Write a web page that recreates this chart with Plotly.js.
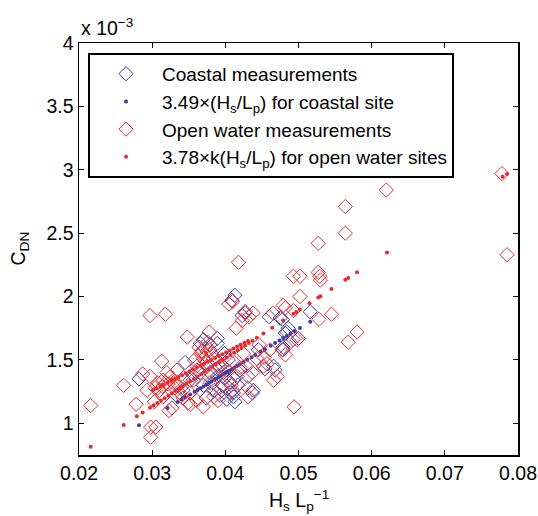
<!DOCTYPE html>
<html>
<head>
<meta charset="utf-8">
<script src="https://cdn.plot.ly/plotly-3.0.1.min.js"></script>
<style>html,body{margin:0;padding:0;background:#fff;}#chart{width:538px;height:516px;}</style>
</head>
<body>
<div id="chart"></div>
<script>
// Coastal measurements (blue open diamonds); y in units of 1e-3
var coastalX = [0.0282,0.0413,0.0409,0.0427,0.0423,0.0389,0.0370,0.0379,0.0366,0.0345,0.0478,0.0484,0.0478,0.0468,0.0438,0.0407,0.0411,0.0516,0.0475,0.0486,0.0482,0.0500,0.0489,0.0479,0.0466,0.0454,0.0389,0.0404,0.0397,0.0407,0.0411,0.0413,0.0393,0.0383,0.0379,0.0375,0.0361,0.0352,0.0342,0.0437,0.0431,0.0445,0.0333,0.0392,0.0400,0.0395,0.0385,0.0417,0.0402,0.0370,0.0356,0.0420,0.0399,0.0388,0.0412,0.0374,0.0460];
var coastalY = [1.35,2.01,1.97,1.88,1.85,1.67,1.66,1.62,1.63,1.48,1.82,1.72,1.58,1.42,1.26,1.24,1.21,1.88,1.83,1.75,1.71,1.67,1.64,1.60,1.45,1.43,1.63,1.50,1.40,1.32,1.24,1.17,1.22,1.32,1.40,1.48,1.42,1.34,1.26,1.24,1.37,1.58,1.22,1.28,1.36,1.46,1.26,1.30,1.19,1.30,1.38,1.42,1.55,1.43,1.35,1.20,1.84];

// 3.49 x (Hs/Lp) for coastal site (blue dots)
var coastalFitX = [0.0282,0.0321,0.0335,0.0340,0.0345,0.0352,0.0358,0.0362,0.0366,0.0370,0.0374,0.0378,0.0381,0.0385,0.0388,0.0391,0.0394,0.0397,0.0400,0.0403,0.0406,0.0409,0.0412,0.0416,0.0420,0.0425,0.0430,0.0436,0.0441,0.0448,0.0454,0.0462,0.0468,0.0474,0.0479,0.0484,0.0489,0.0495,0.0502,0.0516];
var coastalFitY = [0.984,1.120,1.169,1.187,1.204,1.228,1.249,1.263,1.277,1.291,1.305,1.319,1.330,1.344,1.354,1.365,1.375,1.386,1.396,1.406,1.417,1.427,1.438,1.452,1.466,1.483,1.501,1.522,1.539,1.564,1.584,1.612,1.633,1.654,1.672,1.689,1.707,1.728,1.752,1.801];

// Open water measurements (red open diamonds)
var openX = [0.0216,0.0261,0.0278,0.0287,0.0297,0.0318,0.0298,0.0305,0.0298,0.0303,0.0313,0.0323,0.0327,0.0348,0.0352,0.0370,0.0378,0.0418,0.0405,0.0410,0.0415,0.0427,0.0432,0.0438,0.0431,0.0465,0.0479,0.0482,0.0493,0.0493,0.0502,0.0502,0.0527,0.0527,0.0529,0.0530,0.0528,0.0545,0.0564,0.0564,0.0580,0.0568,0.0494,0.0620,0.0778,0.0785,0.0493,0.0461,0.0471,0.0431,0.0390,0.0349,0.0308,0.0304,0.0315,0.0314,0.0325,0.0329,0.0334,0.0338,0.0352,0.0356,0.0361,0.0366,0.0372,0.0370,0.0379,0.0384,0.0375,0.0389,0.0379,0.0396,0.0402,0.0416,0.0425,0.0429,0.0443,0.0452,0.0384,0.0361,0.0297,0.0293,0.0315,0.0498,0.0479,0.0457,0.0466,0.0482,0.0319,0.0331,0.0343,0.0366,0.0358,0.0381,0.0392,0.0408,0.0420,0.0437,0.0446,0.0410,0.0364,0.0376,0.0453,0.0342,0.0320,0.0412,0.0423,0.0310,0.0322,0.0336,0.0368,0.0374];
var openY = [1.14,1.30,1.15,1.39,1.85,1.86,0.97,0.97,0.89,1.17,1.49,1.10,1.12,1.68,1.15,1.13,1.72,2.27,1.94,1.96,1.75,1.87,1.84,1.87,1.21,1.87,1.93,1.91,1.89,2.16,2.16,2.00,2.42,2.19,2.16,2.13,1.82,1.86,2.71,2.50,1.72,1.64,1.13,2.84,2.97,2.33,1.66,1.58,1.37,1.28,1.18,1.16,1.32,1.28,1.34,1.29,1.37,1.32,1.42,1.24,1.24,1.34,1.45,1.55,1.59,1.51,1.58,1.51,1.45,1.37,1.32,1.30,1.42,1.37,1.55,1.45,1.51,1.45,1.21,1.18,1.37,1.26,1.21,1.66,1.58,1.47,1.34,1.54,1.32,1.28,1.36,1.40,1.50,1.55,1.45,1.30,1.44,1.40,1.62,1.26,1.60,1.64,1.52,1.20,1.40,1.48,1.81,1.26,1.31,1.30,1.57,1.53];

// 3.78 x k(Hs/Lp) for open water sites (red dots)
var openFitX = [0.0216,0.0261,0.0279,0.0287,0.0297,0.0302,0.0307,0.0312,0.0317,0.0322,0.0327,0.0332,0.0337,0.0342,0.0347,0.0352,0.0357,0.0362,0.0367,0.0372,0.0377,0.0382,0.0387,0.0392,0.0397,0.0402,0.0407,0.0412,0.0417,0.0422,0.0427,0.0432,0.0437,0.0443,0.0452,0.0464,0.0479,0.0493,0.0497,0.0502,0.0515,0.0527,0.0530,0.0545,0.0564,0.0568,0.0580,0.0621,0.0779,0.0785,
  0.0301,0.0303,0.0306,0.0311,0.0313,0.0316,0.0321,0.0326,0.0328,0.0331,0.0336,0.0341,0.0346,0.0351,0.0356,0.0361,0.0366,0.0371,0.0376,0.0381,0.0386,0.0391,0.0396,0.0401,0.0406,0.0411,0.0416,0.0421,0.0426,0.0431];
var openFitY = [0.816,0.987,1.055,1.085,1.123,1.142,1.160,1.179,1.198,1.217,1.236,1.255,1.274,1.293,1.312,1.331,1.349,1.368,1.387,1.406,1.425,1.444,1.463,1.482,1.501,1.520,1.538,1.557,1.576,1.595,1.614,1.633,1.652,1.675,1.709,1.754,1.811,1.864,1.879,1.898,1.947,1.992,2.003,2.060,2.132,2.147,2.192,2.347,2.945,2.967,
  1.260,1.270,1.275,1.290,1.300,1.305,1.320,1.335,1.345,1.350,1.365,1.380,1.395,1.410,1.425,1.440,1.455,1.470,1.485,1.500,1.515,1.530,1.545,1.560,1.575,1.590,1.605,1.620,1.635,1.650];

var xTicks = [0.02,0.03,0.04,0.05,0.06,0.07,0.08];
var xTickText = ["0.02","0.03","0.04","0.05","0.06","0.07","0.08"];
var yTicks = [1,1.5,2,2.5,3,3.5,4];
var yTickText = ["1","1.5","2","2.5","3","3.5","4"];

var BLUE = '#3a3ea8';
var RED = '#ea2a2e';
var FONT = 'Liberation Sans, Arial, Helvetica, sans-serif';
var FS = 19.5;
var LFS = 19;

var traces = [
  {x: coastalX, y: coastalY, type: 'scatter', mode: 'markers', name: 'Coastal measurements',
   marker: {symbol: 'diamond-open', size: 11, color: BLUE, line: {width: 1, color: BLUE}}},
  {x: coastalFitX, y: coastalFitY, type: 'scatter', mode: 'markers', name: '3.49×(H<sub>s</sub>/L<sub>p</sub>) for coastal site',
   marker: {symbol: 'circle', size: 4, color: BLUE}},
  {x: openX, y: openY, type: 'scatter', mode: 'markers', name: 'Open water measurements',
   marker: {symbol: 'diamond-open', size: 11, color: RED, line: {width: 1, color: RED}}},
  {x: openFitX, y: openFitY, type: 'scatter', mode: 'markers', name: '3.78×k(H<sub>s</sub>/L<sub>p</sub>) for open water sites',
   marker: {symbol: 'circle', size: 4, color: RED}}
];

var axisCommon = {
  showline: true, linecolor: '#000', linewidth: 1.5, mirror: 'ticks',
  ticks: 'inside', ticklen: 5, tickwidth: 1, tickcolor: '#000',
  showgrid: false, zeroline: false,
  tickfont: {family: FONT, size: FS, color: '#000'}
};

var layout = {
  width: 538, height: 516,
  margin: {l: 79, r: 20, t: 43, b: 61},
  paper_bgcolor: '#fff', plot_bgcolor: '#fff',
  font: {family: FONT, size: FS, color: '#000'},
  showlegend: true,
  xaxis: Object.assign({}, axisCommon, {range: [0.02, 0.08], tickmode: 'array', tickvals: xTicks, ticktext: xTickText}),
  yaxis: Object.assign({}, axisCommon, {range: [0.75, 4], tickmode: 'array', tickvals: yTicks, ticktext: yTickText}),
  legend: {
    x: 0.0205, y: 0.976, xanchor: 'left', yanchor: 'top',
    bgcolor: '#fff', bordercolor: '#000', borderwidth: 2,
    font: {family: FONT, size: LFS, color: '#000'},
    itemwidth: 62, tracegroupgap: 0
  },
  annotations: [
    {xref: 'paper', yref: 'paper', x: 0, y: 1, xanchor: 'left', yanchor: 'bottom', yshift: 2,
     text: 'x 10<sup>−3</sup>', showarrow: false, font: {family: FONT, size: FS, color: '#000'}},
    {xref: 'paper', yref: 'paper', x: 0.5, y: 0, xanchor: 'center', yanchor: 'top', yshift: -30,
     text: 'H<sub>s</sub> L<sub>p</sub><sup>−1</sup>', showarrow: false, font: {family: FONT, size: FS, color: '#000'}},
    {xref: 'paper', yref: 'paper', x: 0, y: 0.5, xanchor: 'right', yanchor: 'middle', xshift: -46,
     text: 'C<sub>DN</sub>', textangle: -90, showarrow: false, font: {family: FONT, size: FS, color: '#000'}}
  ]
};

Plotly.newPlot('chart', traces, layout, {displayModeBar: false, staticPlot: true});
</script>
</body>
</html>
